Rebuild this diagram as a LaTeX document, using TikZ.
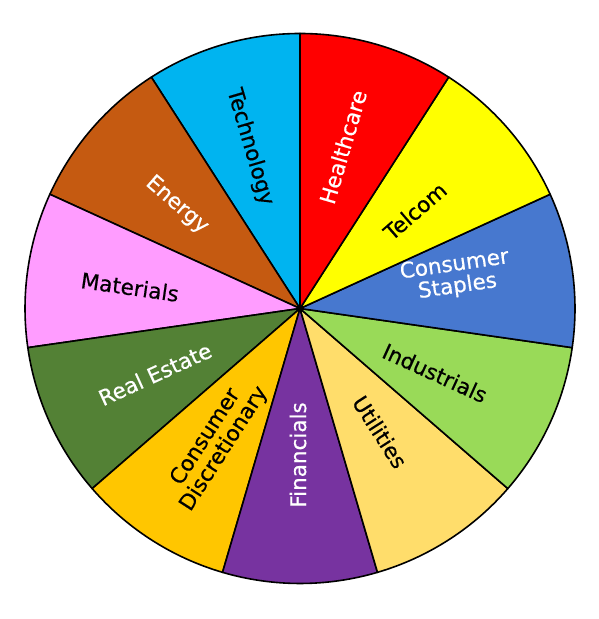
\documentclass[tikz,border=0pt]{standalone}
\usepackage{fontspec}
\setmainfont{DejaVu Sans}
\newfontfamily\lblfont{DejaVu Sans}[FakeBold=0.5]
\definecolor{ctech}{HTML}{00B4F0}
\definecolor{chealth}{HTML}{FF0000}
\definecolor{ctel}{HTML}{FFFF00}
\definecolor{cstap}{HTML}{4778CF}
\definecolor{cind}{HTML}{99DA58}
\definecolor{cutil}{HTML}{FFDD6B}
\definecolor{cfin}{HTML}{7733A0}
\definecolor{cdisc}{HTML}{FFC600}
\definecolor{creal}{HTML}{538135}
\definecolor{cmat}{HTML}{FF9CFF}
\definecolor{cener}{HTML}{C55A11}
\begin{document}
\begin{tikzpicture}[x=1pt,y=1pt,
  sector/.style={draw=black,line width=1.6pt,line join=round},
  lbl/.style={font=\lblfont\fontsize{21.5}{22}\selectfont,align=center,inner sep=0pt}]
\useasboundingbox (0,0) rectangle (598,619);
\coordinate (c) at (300,310.5);
\def\R{275}
\foreach \i/\col in {0/ctech,1/cener,2/cmat,3/creal,4/cdisc,5/cfin,6/cutil,7/cind,8/cstap,9/ctel,10/chealth}{
  \pgfmathsetmacro{\a}{90+\i*360/11}
  \pgfmathsetmacro{\b}{90+(\i+1)*360/11}
  \draw[sector,fill=\col] (c) -- ++(\a:\R) arc[start angle=\a,end angle=\b,radius=\R] -- cycle;
}
\node[lbl,rotate=-73.6,text=black] (tech) at (250,472) {Technology};
\node[lbl,rotate=73.6,text=white] (health) at (343,472) {Healthcare};
\node[lbl,rotate=40.9,text=black] (tel) at (415,408) {Telcom};
\node[lbl,rotate=8.2,text=white] (stap) at (456,343) {Consumer\\Staples};
\node[lbl,rotate=-24.5,text=black] (ind) at (435,246) {Industrials};
\node[lbl,rotate=-57.3,text=black] (util) at (380,187) {Utilities};
\node[lbl,rotate=90,text=white] (fin) at (298,164) {Financials};
\node[lbl,rotate=57.3,text=black] (disc) at (215,176) {Consumer\\Discretionary};
\node[lbl,rotate=24.5,text=white] (real) at (155,245) {Real Estate};
\node[lbl,rotate=-8.2,text=black] (mat) at (130,332) {Materials};
\node[lbl,rotate=-40.9,text=white] (ener) at (177,414) {Energy};
\end{tikzpicture}
\end{document}
